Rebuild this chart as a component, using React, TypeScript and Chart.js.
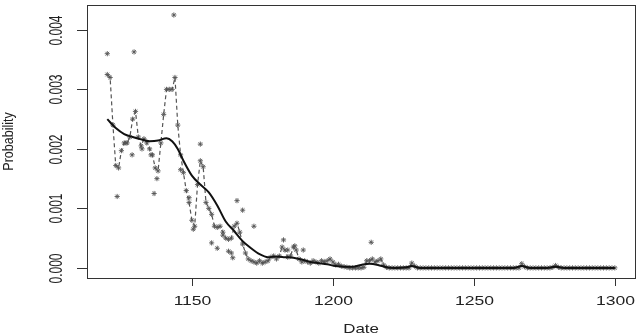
import React, { useEffect, useRef } from "react";
import { Chart, registerables } from "chart.js";

Chart.register(...registerables);

// Yearly observations (asterisks joined by the dashed line)
const years = [
  1120, 1121, 1122, 1123, 1124, 1125, 1126, 1127, 1128, 1129,
  1130, 1131, 1132, 1133, 1134, 1135, 1136, 1137, 1138, 1139,
  1140, 1141, 1142, 1143, 1144, 1145, 1146, 1147, 1148, 1149,
  1150, 1151, 1152, 1153, 1154, 1155, 1156, 1157, 1158, 1159,
  1160, 1161, 1162, 1163, 1164, 1165, 1166, 1167, 1168, 1169,
  1170, 1171, 1172, 1173, 1174, 1175, 1176, 1177, 1178, 1179,
  1180, 1181, 1182, 1183, 1184, 1185, 1186, 1187, 1188, 1189,
  1190, 1191, 1192, 1193, 1194, 1195, 1196, 1197, 1198, 1199,
  1200, 1201, 1202, 1203, 1204, 1205, 1206, 1207, 1208, 1209,
  1210, 1211, 1212, 1213, 1214, 1215, 1216, 1217, 1218, 1219,
  1220, 1221, 1222, 1223, 1224, 1225, 1226, 1227, 1228, 1229,
  1230, 1231, 1232, 1233, 1234, 1235, 1236, 1237, 1238, 1239,
  1240, 1241, 1242, 1243, 1244, 1245, 1246, 1247, 1248, 1249,
  1250, 1251, 1252, 1253, 1254, 1255, 1256, 1257, 1258, 1259,
  1260, 1261, 1262, 1263, 1264, 1265, 1266, 1267, 1268, 1269,
  1270, 1271, 1272, 1273, 1274, 1275, 1276, 1277, 1278, 1279,
  1280, 1281, 1282, 1283, 1284, 1285, 1286, 1287, 1288, 1289,
  1290, 1291, 1292, 1293, 1294, 1295, 1296, 1297, 1298, 1299,
  1300,
];

const observed = [
  0.00325, 0.0032, 0.0024, 0.00172, 0.00168, 0.00197, 0.0021, 0.0021, 0.0022, 0.0025,
  0.00263, 0.0022, 0.00205, 0.00217, 0.0021, 0.002, 0.0019, 0.00168, 0.00163, 0.0021,
  0.00258, 0.003, 0.003, 0.003, 0.0032, 0.0024, 0.0019, 0.0016, 0.0013, 0.0011,
  0.0008, 0.0007, 0.0014, 0.0018, 0.0017, 0.0011, 0.001, 0.0009, 0.0007, 0.00068,
  0.0007, 0.0006, 0.0005, 0.00048, 0.0005, 0.0007, 0.00075, 0.0006, 0.0004, 0.00025,
  0.00015, 0.00012, 0.0001, 0.00008, 0.00012, 0.00008, 0.0001, 0.00012, 0.00018, 0.0002,
  0.00015, 0.0002, 0.00035, 0.0003, 0.00018, 0.0002, 0.00035, 0.0003, 0.00015, 0.0001,
  0.00012, 0.0001, 0.00008, 0.00012, 0.0001, 0.00008, 0.00012, 0.0001, 0.00012, 0.00015,
  0.0001, 0.00005, 0.00006, 0.00003, 0.00002, 0.00001, 0, 0, 0, 0,
  0, 0.00001, 0.00012, 0.00012, 0.00015, 0.0001, 0.00012, 0.00015, 0.00005, 0.00001,
  0, 0, 0, 0, 0, 0, 0, 0, 0.00008, 0.00003,
  0, 0, 0, 0, 0, 0, 0, 0, 0, 0,
  0, 0, 0, 0, 0, 0, 0, 0, 0, 0,
  0, 0, 0, 0, 0, 0, 0, 0, 0, 0,
  0, 0, 0, 0, 0, 0, 0, 0.00007, 0.00002, 0,
  0, 0, 0, 0, 0, 0, 0, 0, 0.00001, 0.00004,
  0.00001, 0, 0, 0, 0, 0, 0, 0, 0, 0,
  0, 0, 0, 0, 0, 0, 0, 0, 0, 0,
  0,
];

// Additional scattered observations (asterisks off the dashed line)
const extraYears = [
  1120, 1129.5, 1143.6, 1123.5, 1136.6, 1137.6, 1128.8, 1132.3, 1135.5, 1126.6,
  1153, 1146, 1157, 1159, 1164, 1164.5, 1166, 1168, 1172, 1182.5,
  1186.5, 1184, 1189.5, 1213.6, 1150.5, 1149, 1161, 1163,
];
const extraValues = [
  0.0036, 0.00363, 0.00425, 0.0012, 0.00125, 0.0015, 0.0019, 0.002, 0.0019, 0.0021,
  0.00208, 0.00165, 0.00042, 0.00033, 0.00025, 0.00017, 0.00113, 0.00097, 0.0007, 0.00047,
  0.00037, 0.0003, 0.0003, 0.00043, 0.00065, 0.00118, 0.00055, 0.00028,
];

// Smoothed curve (solid line)
const smoothYears = [
  1120, 1123, 1126, 1129, 1132, 1135, 1138, 1141, 1143, 1145,
  1147, 1150, 1153, 1156, 1159, 1162, 1165, 1168, 1171, 1174,
  1177, 1180, 1183, 1186, 1189, 1192, 1195, 1198, 1201, 1204,
  1207, 1210, 1213, 1216, 1219, 1222, 1226, 1228, 1231, 1264,
  1267, 1270, 1276, 1279, 1282, 1300,
];
const smoothValues = [
  0.0025, 0.00235, 0.00225, 0.0022, 0.00216, 0.00213, 0.00214, 0.00218, 0.00213, 0.002,
  0.0018, 0.00155, 0.0014, 0.00127, 0.00105, 0.00078, 0.00062, 0.00045, 0.00033, 0.00023,
  0.00018, 0.00019, 0.00018, 0.00017, 0.00014, 0.0001, 0.00008, 0.00006, 0.00003, 0.00002,
  0.00002, 0.00005, 0.00007, 0.00005, 0.00001, 0, 0.00001, 0.00003, 0, 0,
  0.00003, 0, 0, 0.00002, 0, 0,
];

const xTicks = [1150, 1200, 1250, 1300];
const yTicks = [0, 0.001, 0.002, 0.003, 0.004];
const yTickLabels = ["0.000", "0.001", "0.002", "0.003", "0.004"];
const xTitle = "Date";
const yTitle = "Probability";

const FONT = "'Liberation Sans', Arial, Helvetica, sans-serif";

const rAxesPlugin = {
  id: "rAxes",
  afterDraw(chart: any) {
    const { ctx, chartArea: a, scales } = chart;
    const xs = scales.x;
    const ys = scales.y;
    ctx.save();
    ctx.strokeStyle = "#333";
    ctx.lineWidth = 1;
    ctx.strokeRect(Math.round(a.left) + 0.5, Math.round(a.top) + 0.5, Math.round(a.right - a.left), Math.round(a.bottom - a.top));

    ctx.fillStyle = "#222";
    // x axis ticks + labels
    ctx.font = `13px ${FONT}`;
    ctx.textAlign = "center";
    ctx.textBaseline = "alphabetic";
    xTicks.forEach((v) => {
      const x = Math.round(xs.getPixelForValue(v)) + 0.5;
      ctx.beginPath();
      ctx.moveTo(x, a.bottom);
      ctx.lineTo(x, a.bottom + 8);
      ctx.stroke();
      ctx.save();
      ctx.translate(x, 304.5);
      ctx.scale(1.35, 1);
      ctx.fillText(String(v), 0, 0);
      ctx.restore();
    });
    // y axis ticks + labels
    ctx.font = `12px ${FONT}`;
    yTicks.forEach((v, i) => {
      const y = Math.round(ys.getPixelForValue(v)) + 0.5;
      ctx.beginPath();
      ctx.moveTo(a.left, y);
      ctx.lineTo(a.left - 10, y);
      ctx.stroke();
      ctx.save();
      ctx.translate(62, y);
      ctx.scale(1.6, 1);
      ctx.rotate(-Math.PI / 2);
      ctx.fillText(yTickLabels[i], 0, 0);
      ctx.restore();
    });
    // titles
    ctx.font = `13px ${FONT}`;
    ctx.save();
    ctx.translate((a.left + a.right) / 2, 333);
    ctx.scale(1.3, 1);
    ctx.fillText(xTitle, 0, 0);
    ctx.restore();

    ctx.font = `12.5px ${FONT}`;
    ctx.save();
    ctx.translate(13, (a.top + a.bottom) / 2);
    ctx.scale(1.1, 1);
    ctx.rotate(-Math.PI / 2);
    ctx.fillText(yTitle, 0, 0);
    ctx.restore();
    ctx.restore();
  },
};

export default function App() {
  const ref = useRef<HTMLCanvasElement | null>(null);

  useEffect(() => {
    if (!ref.current) return;
    const chart = new Chart(ref.current, {
      type: "scatter",
      data: {
        datasets: [
          {
            type: "line",
            label: "smooth",
            data: smoothYears.map((x, i) => ({ x, y: smoothValues[i] })),
            borderColor: "#111",
            borderWidth: 2,
            pointRadius: 0,
            tension: 0.4,
            cubicInterpolationMode: "monotone",
            fill: false,
          } as any,
          {
            type: "line",
            label: "observed",
            data: years.map((x, i) => ({ x, y: observed[i] })),
            borderColor: "#555",
            borderWidth: 1.2,
            borderDash: [4, 3],
            pointStyle: "star",
            pointRadius: 2.6,
            pointBorderColor: "#555",
            pointBorderWidth: 0.9,
            pointBackgroundColor: "#555",
            tension: 0,
            fill: false,
          } as any,
          {
            type: "scatter",
            label: "extra",
            data: extraYears.map((x, i) => ({ x, y: extraValues[i] })),
            pointStyle: "star",
            pointRadius: 2.6,
            pointBorderColor: "#555",
            pointBorderWidth: 0.9,
            pointBackgroundColor: "#555",
            showLine: false,
          } as any,
        ],
      },
      options: {
        animation: false,
        responsive: false,
        maintainAspectRatio: false,
        events: [],
        layout: { padding: { top: 3, right: 3, left: 0, bottom: 0 } },
        plugins: { legend: { display: false }, tooltip: { enabled: false } },
        scales: {
          x: {
            type: "linear",
            min: 1112.8,
            max: 1307.2,
            grid: { display: false },
            border: { display: false },
            ticks: { display: false },
            afterFit: (s: any) => {
              s.height = 56;
            },
          },
          y: {
            type: "linear",
            min: -0.00017,
            max: 0.00442,
            grid: { display: false },
            border: { display: false },
            ticks: { display: false },
            afterFit: (s: any) => {
              s.width = 87;
            },
          },
        },
      },
      plugins: [rAxesPlugin],
    });
    return () => chart.destroy();
  }, []);

  return (
    <div style={{ position: "absolute", left: 0, top: 0, width: 640, height: 334, background: "#fff" }}>
      <canvas ref={ref} width={640} height={334} style={{ display: "block", width: 640, height: 334 }} />
    </div>
  );
}
